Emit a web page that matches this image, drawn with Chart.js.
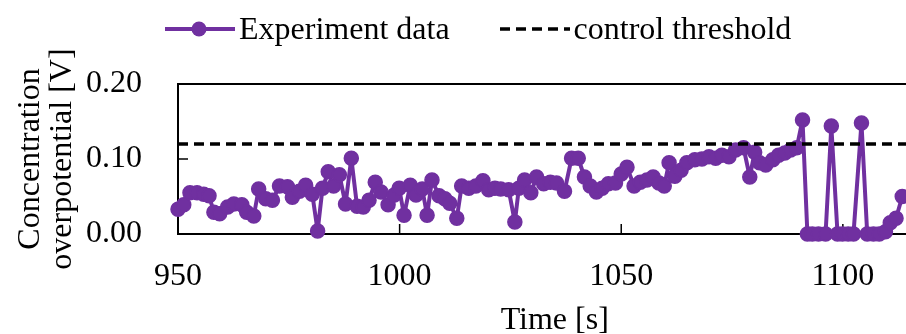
<!DOCTYPE html>
<html>
<head>
<meta charset="utf-8">
<script src="https://cdn.jsdelivr.net/npm/chart.js@4"></script>
<style>
    body { margin: 0; background: #fff; }
    #wrap { position: relative; width: 906px; height: 334px; overflow: hidden; }
    #box { position: absolute; left: 0; top: 0; width: 940px; height: 334px; }
    #legend {
        position: absolute; top: 10px; left: 165px;
        display: flex; align-items: center;
        font-family: 'Liberation Serif', serif; font-size: 32px; color: #000;
        white-space: nowrap;
    }
    .item { display: flex; align-items: center; margin-right: 50px; }
    .item svg { margin-right: 4px; }
</style>
</head>
<body>
<div id="wrap">
    <div id="box"><canvas id="chart"></canvas></div>
    <div id="legend"></div>
</div>
<script>
const times = [
    950.0, 951.3, 952.7, 954.3, 955.8, 957.0, 958.1, 959.4, 961.2, 962.6,
    964.4, 965.5, 967.1, 968.2, 969.8, 971.3, 972.9, 974.7, 975.8, 977.4,
    978.8, 980.3, 981.5, 982.6, 983.9, 985.1, 986.4, 987.8, 989.1, 990.4,
    991.8, 993.1, 994.5, 995.8, 997.4, 998.8, 999.9, 1001.0, 1002.4, 1003.7,
    1005.1, 1006.2, 1007.3, 1008.9, 1010.2, 1011.3, 1012.9, 1014.0, 1015.6, 1017.2,
    1018.8, 1020.1, 1021.5, 1022.8, 1024.6, 1026.0, 1026.9, 1028.2, 1029.6, 1030.9,
    1032.5, 1034.0, 1035.4, 1037.2, 1038.8, 1040.3, 1041.7, 1043.0, 1044.4, 1045.7,
    1047.1, 1048.7, 1050.0, 1051.3, 1052.9, 1054.3, 1055.8, 1057.2, 1058.5, 1059.7,
    1060.8, 1062.1, 1063.5, 1064.8, 1066.6, 1068.2, 1069.8, 1071.3, 1072.7, 1074.3,
    1075.8, 1077.6, 1079.0, 1080.1, 1081.2, 1082.6, 1084.2, 1085.5, 1086.9, 1088.2,
    1089.6, 1090.9, 1092.0, 1093.1, 1094.5, 1096.1, 1097.4, 1098.8, 1099.9, 1101.2,
    1102.4, 1104.2, 1105.5, 1106.9, 1108.2, 1109.6, 1110.7, 1112.0, 1113.4
];
const overpotential = [
    0.033, 0.039, 0.055, 0.055, 0.053, 0.051, 0.029, 0.027, 0.036, 0.040,
    0.039, 0.029, 0.024, 0.060, 0.047, 0.045, 0.064, 0.063, 0.049, 0.057,
    0.065, 0.053, 0.004, 0.061, 0.083, 0.064, 0.079, 0.040, 0.101, 0.037,
    0.036, 0.045, 0.069, 0.056, 0.039, 0.052, 0.061, 0.025, 0.065, 0.052,
    0.060, 0.025, 0.072, 0.051, 0.047, 0.041, 0.021, 0.064, 0.061, 0.064,
    0.071, 0.059, 0.061, 0.060, 0.059, 0.016, 0.061, 0.072, 0.055, 0.076,
    0.067, 0.069, 0.068, 0.057, 0.101, 0.101, 0.076, 0.064, 0.056, 0.061,
    0.067, 0.068, 0.080, 0.089, 0.064, 0.069, 0.072, 0.076, 0.068, 0.064,
    0.095, 0.077, 0.085, 0.095, 0.099, 0.100, 0.103, 0.101, 0.105, 0.103,
    0.112, 0.115, 0.076, 0.109, 0.095, 0.092, 0.099, 0.105, 0.108, 0.112,
    0.115, 0.152, 0.000, 0.000, 0.000, 0.000, 0.144, 0.000, 0.000, 0.000,
    0.000, 0.148, 0.000, 0.000, 0.000, 0.003, 0.015, 0.021, 0.050
];
const thresholdValue = 0.12;
const xTicks = [950, 1000, 1050, 1100];
const yTicks = [0.00, 0.10, 0.20];

const purple = '#7030a0';
const serif = "'Liberation Serif', serif";

// frame + inward tick marks
const framePlugin = {
    id: 'frame',
    beforeDatasetsDraw(chart) {
        const { ctx, chartArea: a, scales } = chart;
        ctx.save();
        ctx.strokeStyle = '#000';
        ctx.lineWidth = 2;
        ctx.strokeRect(a.left, a.top, a.right - a.left, a.bottom - a.top);
        ctx.lineWidth = 1.5;
        xTicks.forEach(v => {
            const px = scales.x.getPixelForValue(v);
            ctx.beginPath();
            ctx.moveTo(px, a.bottom);
            ctx.lineTo(px, a.bottom - 10);
            ctx.stroke();
        });
        yTicks.forEach(v => {
            const py = scales.y.getPixelForValue(v);
            ctx.beginPath();
            ctx.moveTo(a.left, py);
            ctx.lineTo(a.left + 10, py);
            ctx.stroke();
        });
        ctx.restore();
    }
};

const ctx = document.getElementById('chart').getContext('2d');
const chart = new Chart(ctx, {
    type: 'line',
    data: {
        datasets: [{
            label: 'Experiment data',
            data: times.map((t, i) => ({ x: t, y: overpotential[i] })),
            borderColor: purple,
            backgroundColor: purple,
            borderWidth: 4,
            borderJoinStyle: 'round',
            borderCapStyle: 'round',
            pointRadius: 7,
            pointBorderWidth: 1.5,
            pointBorderColor: purple,
            pointBackgroundColor: purple,
            tension: 0,
            clip: false,
            order: 2
        }, {
            label: 'control threshold',
            data: [{ x: 950, y: thresholdValue }, { x: 1120, y: thresholdValue }],
            borderColor: '#000',
            borderWidth: 3.5,
            borderDash: [10, 6],
            pointRadius: 0,
            order: 1
        }]
    },
    options: {
        responsive: true,
        maintainAspectRatio: false,
        animation: false,
        layout: { padding: { top: 84, right: 5.5, left: 0, bottom: 0 } },
        plugins: {
            legend: { display: false },
            tooltip: { enabled: false }
        },
        scales: {
            x: {
                type: 'linear',
                min: 950,
                max: 1120,
                afterFit: s => { s.height = 100; },
                afterBuildTicks: s => { s.ticks = xTicks.map(v => ({ value: v })); },
                grid: { display: false, drawTicks: false },
                border: { display: false },
                ticks: {
                    color: '#000',
                    padding: 23,
                    maxRotation: 0,
                    callback: v => String(v),
                    font: { family: serif, size: 32 }
                },
                title: {
                    display: true,
                    text: 'Time [s]',
                    color: '#000',
                    padding: { top: 0, bottom: -3 },
                    font: { family: serif, size: 32, lineHeight: 1 }
                }
            },
            y: {
                min: 0,
                max: 0.2,
                afterFit: s => { s.width = 178; },
                afterBuildTicks: s => { s.ticks = yTicks.map(v => ({ value: v })); },
                grid: { display: false, drawTicks: false },
                border: { display: false },
                ticks: {
                    color: '#000',
                    padding: 36,
                    callback: v => v.toFixed(2),
                    font: { family: serif, size: 32 }
                },
                title: {
                    display: true,
                    text: ['Concentration', 'overpotential [V]'],
                    color: '#000',
                    padding: { top: 15, bottom: 0 },
                    font: { family: serif, size: 32, lineHeight: 1 }
                }
            }
        }
    },
    plugins: [framePlugin]
});

// legend in the page, built from the datasets
function swatch(ds) {
    const dash = ds.borderDash ? `stroke-dasharray="${ds.borderDash.join(' ')}"` : '';
    const dot = ds.pointRadius ? `<circle cx="34" cy="12" r="7.5" fill="${ds.borderColor}"/>` : '';
    return `<svg width="70" height="24"><line x1="0" y1="12" x2="70" y2="12" stroke="${ds.borderColor}" stroke-width="${ds.borderWidth}" ${dash}/>${dot}</svg>`;
}
document.getElementById('legend').innerHTML = chart.data.datasets
    .map(ds => `<div class="item">${swatch(ds)}<span>${ds.label}</span></div>`)
    .join('');
</script>
</body>
</html>
